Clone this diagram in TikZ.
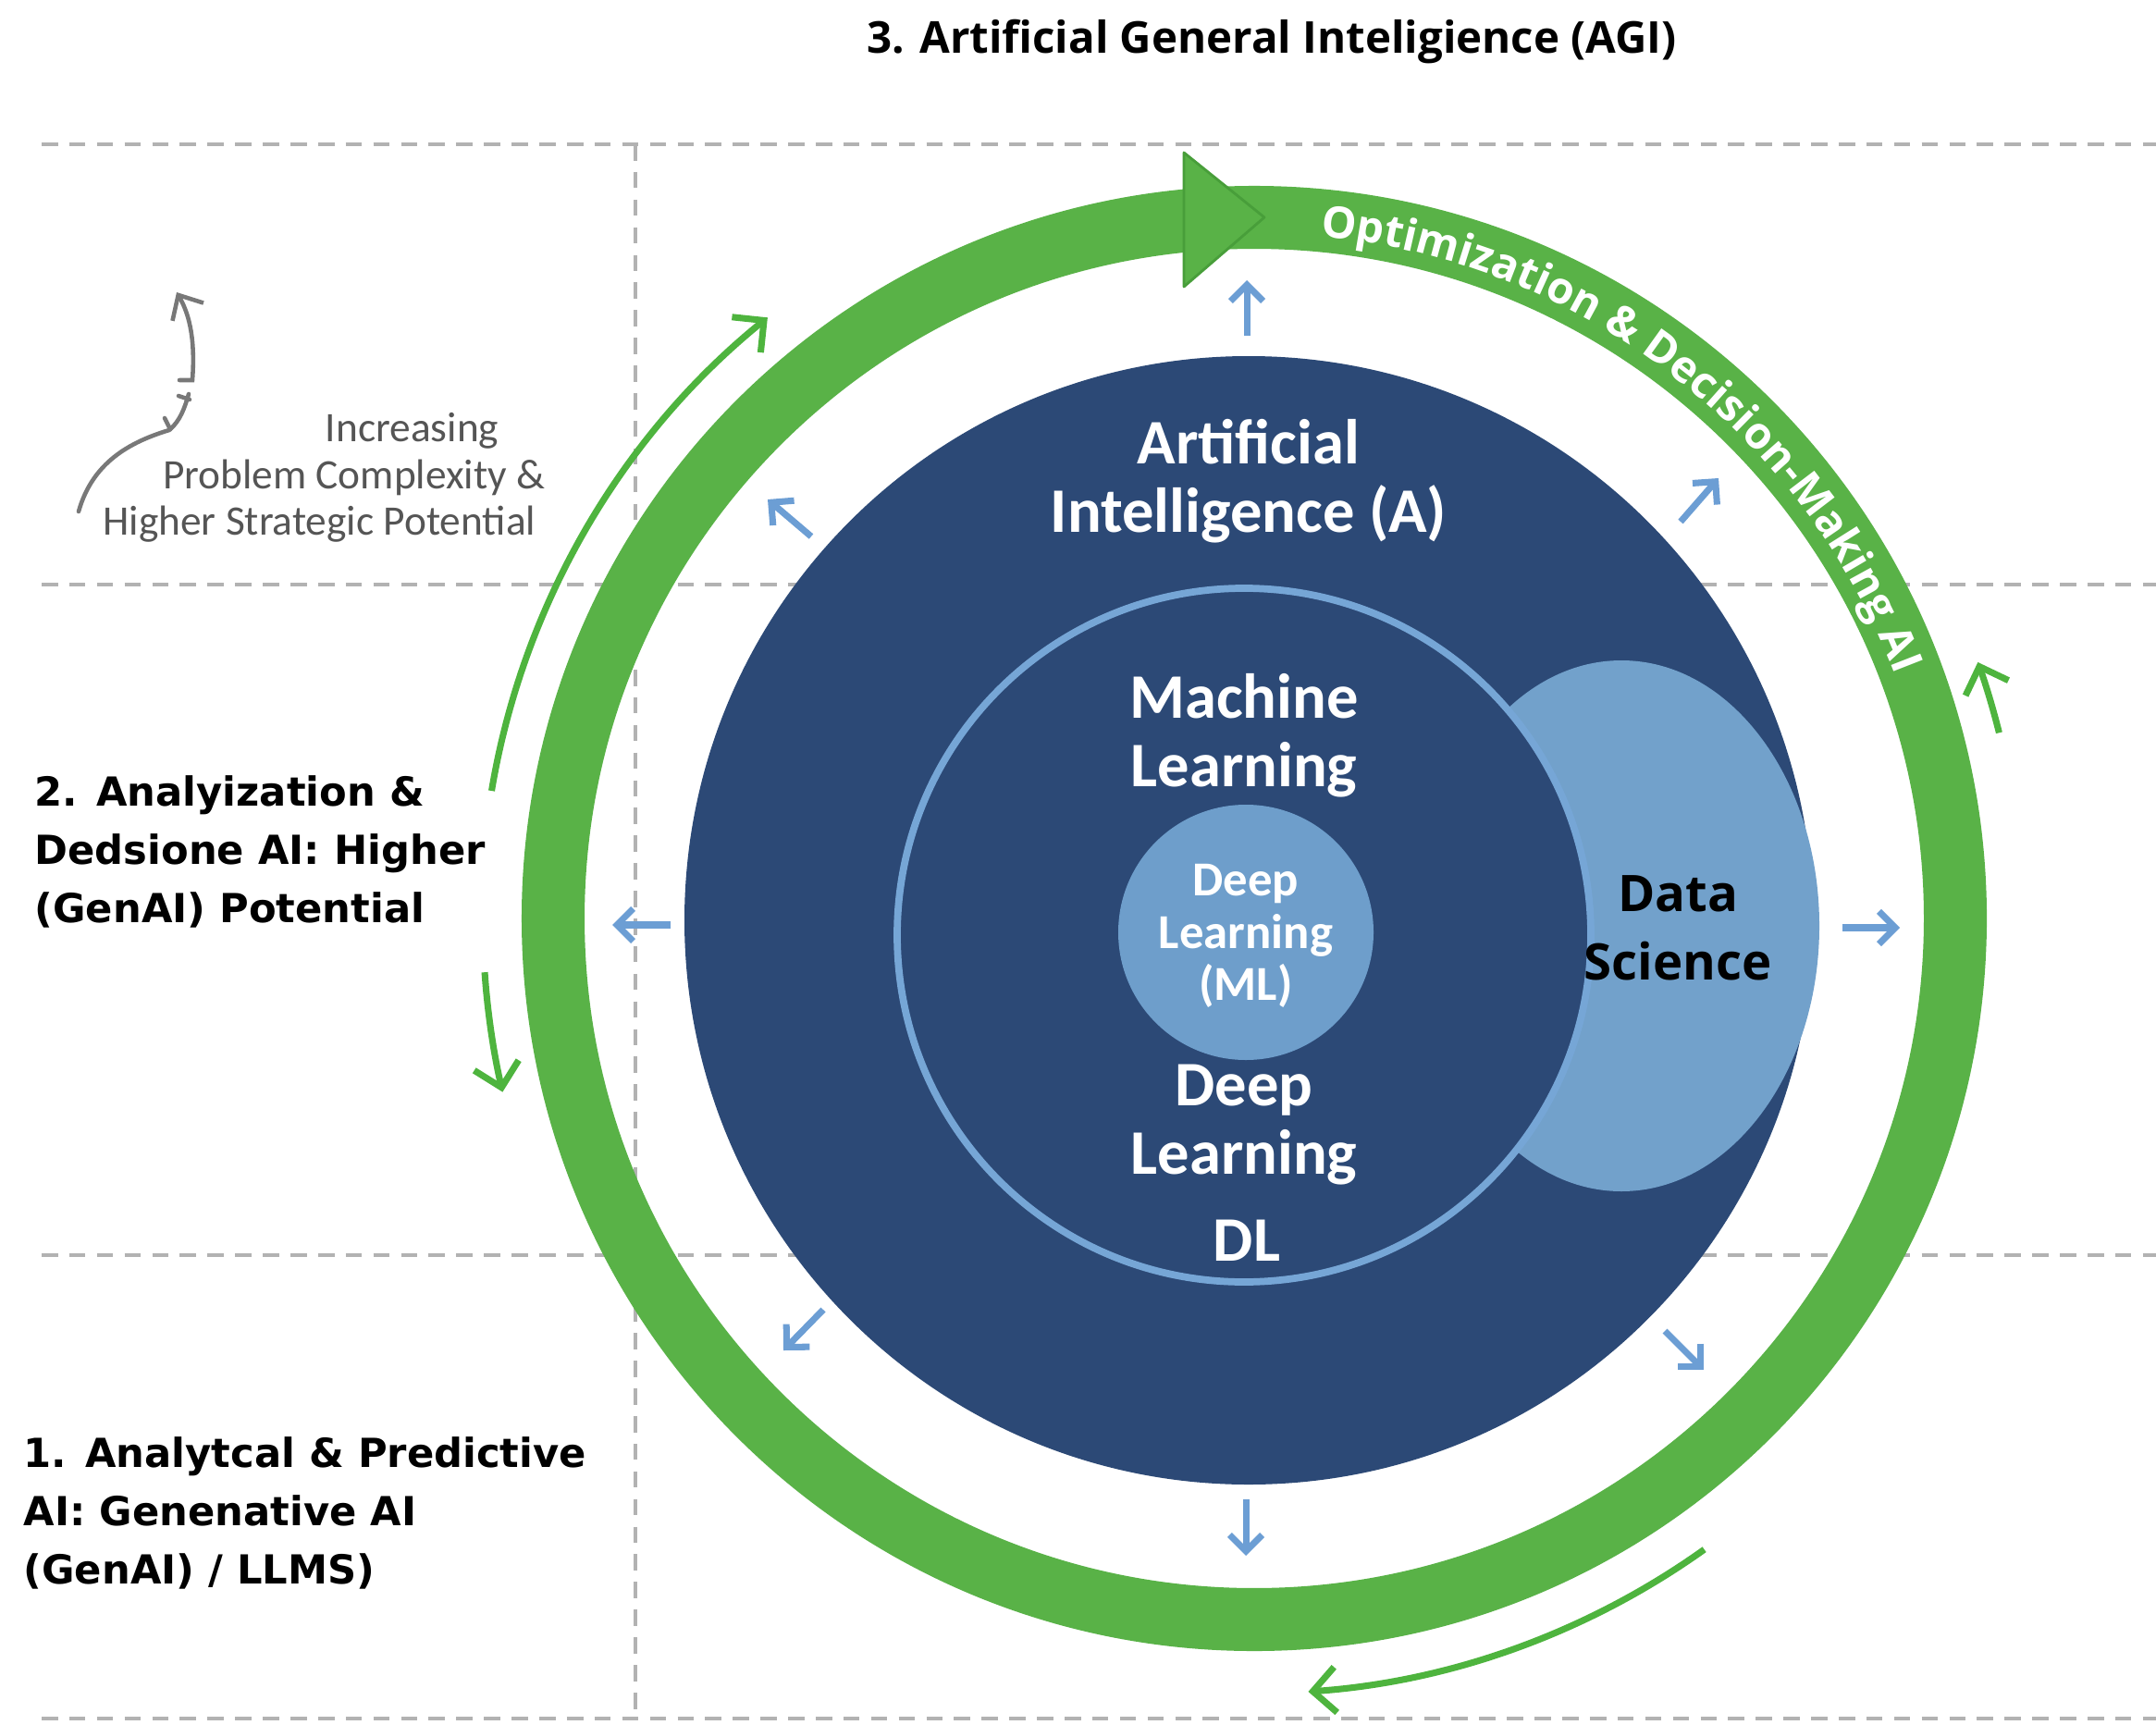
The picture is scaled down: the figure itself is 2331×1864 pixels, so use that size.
\documentclass[tikz,border=0pt]{standalone}
\usepackage{fontspec}
\setmainfont{Open Sans}
\newfontfamily\carlito{Carlito}
\newfontfamily\dejavu{DejaVu Sans}
\newfontfamily\osans{Open Sans}
\usetikzlibrary{arrows.meta,decorations.text}
\definecolor{navy}{RGB}{44,73,118}
\definecolor{lblue}{RGB}{114,161,203}
\definecolor{dlblue}{RGB}{110,158,203}
\definecolor{mlline}{RGB}{118,166,214}
\definecolor{abblue}{RGB}{108,158,212}
\definecolor{ringgreen}{RGB}{89,178,71}
\definecolor{darkgreen}{RGB}{72,158,58}
\definecolor{thingreen}{RGB}{78,180,62}
\definecolor{dashgray}{RGB}{178,178,178}
\definecolor{txtgray}{RGB}{85,85,85}
\definecolor{doodlegray}{RGB}{120,120,120}
\begin{document}
\begin{tikzpicture}[x=0.01cm,y=0.01cm,
  dashline/.style={draw=dashgray, line width=0.9pt, dash pattern=on 5pt off 3.5pt},
  bluearrow/.style={draw=abblue, line width=2pt, -{Straight Barb[length=5pt,width=10pt,line width=2pt]}},
  greenarrow/.style={draw=thingreen, line width=2pt, -{Straight Barb[length=7pt,width=14pt,line width=2pt]}},
  circtext/.style={text=white, font=\carlito\bfseries\fontsize{19.5pt}{21pt}\selectfont, align=center, inner sep=0pt},
  smalltext/.style={text=white, font=\carlito\bfseries\fontsize{15pt}{16pt}\selectfont, align=center, inner sep=0pt},
  leftlabel/.style={text=black, font=\dejavu\bfseries\fontsize{12.3pt}{17.9pt}\selectfont, align=left, inner sep=0pt, anchor=west},
  graytext/.style={text=txtgray, font=\carlito\fontsize{12.9pt}{14pt}\selectfont, inner sep=0pt, anchor=base east},
  doodle/.style={draw=doodlegray, line width=1.3pt, line cap=round}
]
\useasboundingbox (0,0) rectangle (2331,-1864);
\fill[white] (0,0) rectangle (2331,-1864);

% dashed grid
\draw[dashline] (45,-156) -- (2331,-156);
\draw[dashline] (45,-632) -- (2331,-632);
\draw[dashline] (45,-1357) -- (2331,-1357);
\draw[dashline] (45,-1858) -- (2331,-1858);
\draw[dashline] (687,-156) -- (687,-1858);

% green ring
\coordinate (rc) at (1356,-993);
\draw[ringgreen, line width=19.35pt] (rc) circle[radius=758];
\filldraw[fill=ringgreen, draw=darkgreen, line width=0.8pt, line join=round]
  (1280,-165) -- (1367,-235) -- (1280,-310) -- cycle;

\begin{scope}[shift={(1356,-993)}]
\path[decorate, decoration={text along path, text align=left,
  text={|\osans\bfseries\fontsize{13.5pt}{14pt}\selectfont\color{white}|Optimization {\&} Decision-Making AI}}]
  (84.5:741) arc[start angle=84.5, end angle=5, radius=741];
% thin green arrows
\draw[greenarrow] (170.5:836) arc[start angle=170.5, end angle=129, radius=836];
\draw[greenarrow] (184:834) arc[start angle=184, end angle=193, radius=834];
\draw[greenarrow] (14:830) arc[start angle=14, end angle=19.5, radius=830];
\draw[greenarrow] (-54.5:838) arc[start angle=-54.5, end angle=-86, radius=838];
\end{scope}

% circles
\fill[navy] (1350,-995) circle[radius=610];
\fill[lblue] (1753,-1001) ellipse[x radius=214, y radius=287];
\filldraw[fill=navy, draw=mlline, line width=2.2pt] (1345,-1011) circle[radius=375];
\fill[dlblue] (1347,-1008) circle[radius=138];

% circle texts
\node[circtext] (ai) at (1350,-520) {Artificial\\Intelligence (A)};
\node[circtext] (ml) at (1345,-795) {Machine\\Learning};
\node[smalltext] (dlml) at (1347,-1012) {Deep\\Learning\\(ML)};
\node[circtext] (dl) at (1345,-1216) {Deep\\Learning};
\node[circtext] (dlabbr) at (1348,-1341) {DL};
\node[text=black, font=\osans\bfseries\fontsize{15.5pt}{21pt}\selectfont, align=center, inner sep=0pt] (ds) at (1814,-1003) {Data\\Science};

% blue arrows
\coordinate (b1s) at (1348,-363); \coordinate (b1e) at (1348,-303);
\coordinate (b2s) at (1817,-564); \coordinate (b2e) at (1858,-517);
\coordinate (b3s) at (1992,-1003); \coordinate (b3e) at (2054,-1003);
\coordinate (b4s) at (1800,-1439); \coordinate (b4e) at (1842,-1481);
\coordinate (b5s) at (1347,-1621); \coordinate (b5e) at (1347,-1682);
\coordinate (b6s) at (890,-1416); \coordinate (b6e) at (847,-1460);
\coordinate (b7s) at (725,-1000); \coordinate (b7e) at (662,-1000);
\coordinate (b8s) at (877,-580); \coordinate (b8e) at (830,-540);
\foreach \i in {1,...,8} {\draw[bluearrow] (b\i s) -- (b\i e);}

% title
\node[font=\osans\bfseries\fontsize{13.5pt}{16pt}\selectfont, inner sep=0pt] (title) at (1375,-45) {3. Artificial General Inteligience (AGI)};

% left labels
\node[leftlabel] (lab2) at (37,-921) {2. Analyization \&\\Dedsione AI: Higher\\(GenAI) Potential};
\node[leftlabel] (lab1) at (25,-1636) {1. Analytcal \& Predictive\\AI: Genenative AI\\(GenAI) / LLMS)};

% gray note
\node[graytext] (g1) at (540,-477) {Increasing};
\node[graytext] (g2) at (590,-528) {Problem Complexity \&};
\node[graytext] (g3) at (580,-578) {Higher Strategic Potential};

% gray doodle arrow
\coordinate (d0) at (85,-553);
\coordinate (d1) at (183,-465);
\coordinate (d2) at (204,-426);
\coordinate (d3) at (194,-411);
\coordinate (d4) at (208,-411);
\coordinate (d5) at (191,-316);
\draw[doodle] (d0) .. controls (100,-500) and (140,-478) .. (d1) .. controls (195,-455) and (200,-440) .. (d2);
\draw[doodle] (178,-452) -- (184,-464);
\draw[doodle] (193,-428) -- (205,-432);
\draw[doodle, -{Straight Barb[length=6pt,width=11pt,line width=1.3pt]}] (d3) -- (d4) .. controls (211,-370) and (206,-342) .. (d5);
\end{tikzpicture}
\end{document}
